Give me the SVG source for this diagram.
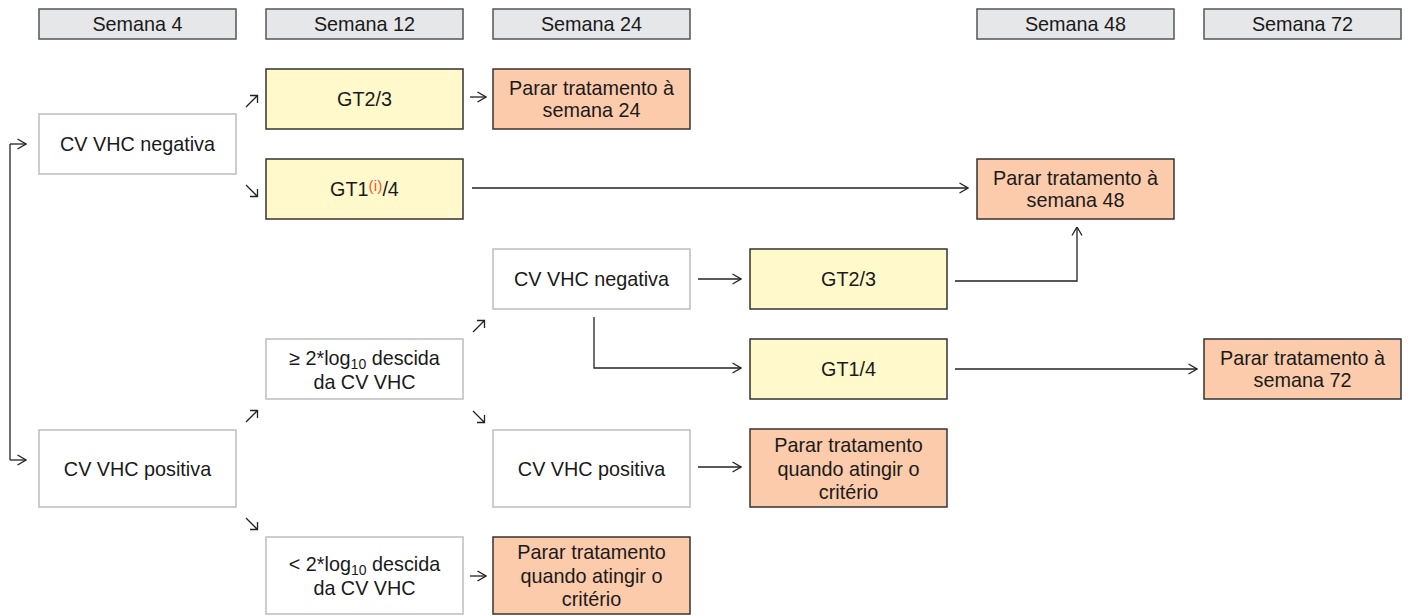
<svg xmlns="http://www.w3.org/2000/svg" width="1411" height="615" viewBox="0 0 1411 615">
<style>
text{font-family:"Liberation Sans",Arial,sans-serif;font-size:19.8px;fill:#1a1a1a;text-anchor:middle}
.hdr{fill:#e6e7e8;stroke:#555;stroke-width:1.5}
.wht{fill:#fff;stroke:#bdbdbd;stroke-width:1.5}
.yel{fill:#fff9cc;stroke:#333;stroke-width:1.5}
.org{fill:#fbcbab;stroke:#333;stroke-width:1.5}
.sup{font-size:15.5px;fill:#ee5a32}
.sub{font-size:14px}
.ln{fill:none;stroke:#222;stroke-width:1.3}
</style>
<defs>
<marker id="ah" viewBox="0 0 10 12" refX="9.5" refY="6" markerWidth="10" markerHeight="12" markerUnits="userSpaceOnUse" orient="auto">
<path d="M1,1 L9.5,6 L1,11" fill="none" stroke="#222" stroke-width="1.3"/>
</marker>
</defs>
<g id="headers">
<g id="h4"><rect class="hdr" x="39" y="9" width="197" height="30"/><text x="137.5" y="31">Semana 4</text></g>
<g id="h12"><rect class="hdr" x="266" y="9" width="197" height="30"/><text x="364.5" y="31">Semana 12</text></g>
<g id="h24"><rect class="hdr" x="493" y="9" width="197" height="30"/><text x="591.5" y="31">Semana 24</text></g>
<g id="h48"><rect class="hdr" x="977" y="9" width="197" height="30"/><text x="1075.5" y="31">Semana 48</text></g>
<g id="h72"><rect class="hdr" x="1204" y="9" width="197" height="30"/><text x="1302.5" y="31">Semana 72</text></g>
</g>
<g id="n-neg4"><rect class="wht" x="39" y="114" width="197" height="60"/><text x="137.5" y="151">CV VHC negativa</text></g>
<g id="n-pos4"><rect class="wht" x="39" y="430" width="197" height="77"/><text x="137.5" y="475.5">CV VHC positiva</text></g>
<g id="n-gt23a"><rect class="yel" x="266" y="69" width="197" height="60"/><text x="364.5" y="106">GT2/3</text></g>
<g id="n-gt14a"><rect class="yel" x="266" y="159" width="197" height="60"/><text x="364.5" y="196">GT1<tspan class="sup" dy="-5.5">(i)</tspan><tspan dy="5.5">/4</tspan></text></g>
<g id="n-stop24"><rect class="org" x="493" y="69" width="197" height="60"/><text x="591.5" y="94.5">Parar tratamento à</text><text x="591.5" y="117">semana 24</text></g>
<g id="n-stop48"><rect class="org" x="977" y="159" width="197" height="60"/><text x="1075.5" y="184.5">Parar tratamento à</text><text x="1075.5" y="207">semana 48</text></g>
<g id="n-decge"><rect class="wht" x="266" y="339" width="197" height="60"/><text x="364.5" y="364.5">≥ 2*log<tspan class="sub" dy="4">10</tspan><tspan dy="-4"> descida</tspan></text><text x="364.5" y="389">da CV VHC</text></g>
<g id="n-declt"><rect class="wht" x="266" y="537" width="197" height="77"/><text x="364.5" y="570.5">&lt; 2*log<tspan class="sub" dy="4">10</tspan><tspan dy="-4"> descida</tspan></text><text x="364.5" y="595">da CV VHC</text></g>
<g id="n-neg24"><rect class="wht" x="493" y="249" width="197" height="60"/><text x="591.5" y="286">CV VHC negativa</text></g>
<g id="n-pos24"><rect class="wht" x="493" y="430" width="197" height="77"/><text x="591.5" y="475.5">CV VHC positiva</text></g>
<g id="n-stopcrit1"><rect class="org" x="493" y="537" width="197" height="77"/><text x="591.5" y="559">Parar tratamento</text><text x="591.5" y="583">quando atingir o</text><text x="591.5" y="606">critério</text></g>
<g id="n-gt23b"><rect class="yel" x="750" y="249" width="197" height="60"/><text x="848.5" y="286">GT2/3</text></g>
<g id="n-gt14b"><rect class="yel" x="750" y="339" width="197" height="60"/><text x="848.5" y="376">GT1/4</text></g>
<g id="n-stopcrit2"><rect class="org" x="750" y="429" width="197" height="78"/><text x="848.5" y="451.5">Parar tratamento</text><text x="848.5" y="475.5">quando atingir o</text><text x="848.5" y="498.5">critério</text></g>
<g id="n-stop72"><rect class="org" x="1204" y="339" width="197" height="60"/><text x="1302.5" y="364.5">Parar tratamento à</text><text x="1302.5" y="387">semana 72</text></g>
<g id="connectors">
<path class="ln" d="M10,144 L10,460"/>
<path class="ln" d="M10,144 L26,144" marker-end="url(#ah)"/>
<path class="ln" d="M10,460 L26,460" marker-end="url(#ah)"/>
<path class="ln" d="M246,107 L257,96 M250,95.5 L257.5,95.5 L257.5,103"/>
<path class="ln" d="M246,185 L257,196 M257.5,189 L257.5,196.5 L250,196.5"/>
<path class="ln" d="M473,332 L484,321 M477,320.5 L484.5,320.5 L484.5,328"/>
<path class="ln" d="M473,411 L484,422 M484.5,415 L484.5,422.5 L477,422.5"/>
<path class="ln" d="M246,422 L257,411 M250,410.5 L257.5,410.5 L257.5,418"/>
<path class="ln" d="M246,518 L257,529 M257.5,522 L257.5,529.5 L250,529.5"/>
<path class="ln" d="M470,97 L486,97" marker-end="url(#ah)"/>
<path class="ln" d="M470,576 L486,576" marker-end="url(#ah)"/>
<path class="ln" d="M472,188 L968,188" marker-end="url(#ah)"/>
<path class="ln" d="M698,279 L741,279" marker-end="url(#ah)"/>
<path class="ln" d="M594,317 L594,368 L741,368" marker-end="url(#ah)"/>
<path class="ln" d="M698,467 L741,467" marker-end="url(#ah)"/>
<path class="ln" d="M955,281 L1077,281 L1077,227" marker-end="url(#ah)"/>
<path class="ln" d="M955,369 L1197,369" marker-end="url(#ah)"/>
</g>
</svg>
